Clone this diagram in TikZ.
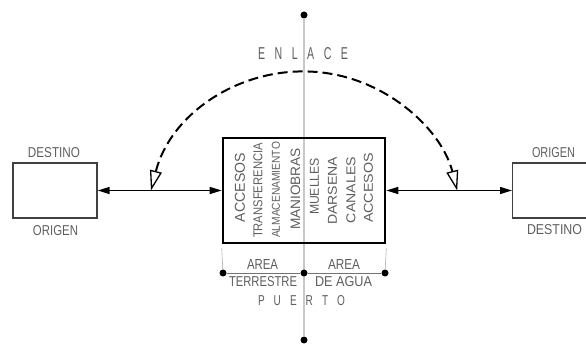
\documentclass[tikz,border=0pt]{standalone}
\usepackage{fontspec}
\usepackage{graphicx}
\setmainfont{Liberation Sans}
\usetikzlibrary{arrows.meta}
\newcommand{\rbx}[3]{\resizebox{#1pt}{#2pt}{#3}}
\newcommand{\spc}{\hspace{0.9em}}
\definecolor{txt}{HTML}{5E5E5E}
\definecolor{axis}{HTML}{C8C8C8}
\begin{document}
\begin{tikzpicture}[x=1pt,y=1pt,
  lbl/.style={inner sep=0pt,text=txt},
  vlbl/.style={inner sep=0pt,text=txt,rotate=90},
  sidebox/.style={draw=black!75,line width=1.4pt,inner sep=0pt,minimum height=55pt},
  mainbox/.style={draw=black,line width=2.6pt,inner sep=0pt,minimum width=162pt,minimum height=105pt},
  dot/.style={circle,fill=black,inner sep=0pt,minimum size=7pt},
  link/.style={line width=1.5pt,{Triangle[length=12pt,width=7pt]}-{Triangle[length=12pt,width=7pt]}},
  arcline/.style={line width=2pt,dash pattern=on 10pt off 5pt,
    {Triangle[open,length=20pt,width=12pt,line width=1.3pt]}-{Triangle[open,length=20pt,width=12pt,line width=1.3pt]}},
  thin/.style={draw=black!55,line width=0.8pt},
  ext/.style={draw=black!30,line width=0.6pt}]
\useasboundingbox (0,0) rectangle (586,345);
\clip (0,0) rectangle (586,345);

% axis
\node[dot] (top) at (304,330) {};
\node[dot] (bot) at (304,5) {};
\draw[axis,line width=1.3pt] (top) -- (bot);

% boxes
\node[sidebox,minimum width=84pt] (lbox) at (55,154.5) {};
\node[sidebox,minimum width=90pt,anchor=west] (rbox) at (512,154.5) {};
\node[mainbox] (cbox) at (304,154.5) {};

% side labels
\node[lbl] (ld) at (54,192.5) {\rbx{52}{10}{DESTINO}};
\node[lbl] (lo) at (55.5,114) {\rbx{45}{10}{ORIGEN}};
\node[lbl] (ro) at (553.5,192.5) {\rbx{43}{10}{ORIGEN}};
\node[lbl] (rd) at (554.5,115) {\rbx{55}{10}{DESTINO}};

% links
\draw[link] (lbox.east) -- (cbox.west);
\draw[link] (cbox.east) -- (rbox.west);

% ENLACE arc
\coordinate (la) at (151,154.5);
\coordinate (ra) at (457,154.5);
\draw[arcline] (la) arc[start angle=165.7,end angle=14.3,radius=158];
\node[lbl] (enl) at (303,291) {\rbx{90}{12}{E\spc N\spc L\spc A\spc C\spc E}};

% columns
\node[vlbl] (c1) at (240,157.5) {\rbx{69}{10}{ACCESOS}};
\node[vlbl] (c2) at (258,154.5) {\rbx{95}{9}{TRANSFERENCIA}};
\node[vlbl] (c3) at (276,155) {\rbx{96}{8}{ALMACENAMIENTO}};
\node[vlbl] (c4) at (295.5,156) {\rbx{82}{9.5}{MANIOBRAS}};
\node[vlbl] (c5) at (314.5,158.5) {\rbx{57}{9}{MUELLES}};
\node[vlbl] (c6) at (332.5,154) {\rbx{68}{9}{DARSENA}};
\node[vlbl] (c7) at (351,155) {\rbx{66}{9}{CANALES}};
\node[vlbl] (c8) at (368.5,157) {\rbx{70}{9}{ACCESOS}};

% bottom dimension
\node[dot] (p1) at (223,72) {};
\node[dot] (p2) at (304,72) {};
\node[dot] (p3) at (385,72) {};
\draw[thin] (p1) -- (p2) -- (p3);
\draw[ext] (cbox.south west) ++(0,-4) -- (p1);
\draw[ext] (cbox.south east) ++(0,-4) -- (p3);
\node[lbl] (a1) at (262.5,80) {\rbx{31}{10}{AREA}};
\node[lbl] (a2) at (344,80) {\rbx{32}{10}{AREA}};
\node[lbl] (t1) at (263,63) {\rbx{68}{10}{TERRESTRE}};
\node[lbl] (t2) at (343.5,63) {\rbx{57}{10}{DE AGUA}};
\node[lbl] (pu) at (301.5,44) {\rbx{87}{10}{P\spc U\spc E\spc R\spc T\spc O}};
\end{tikzpicture}
\end{document}
